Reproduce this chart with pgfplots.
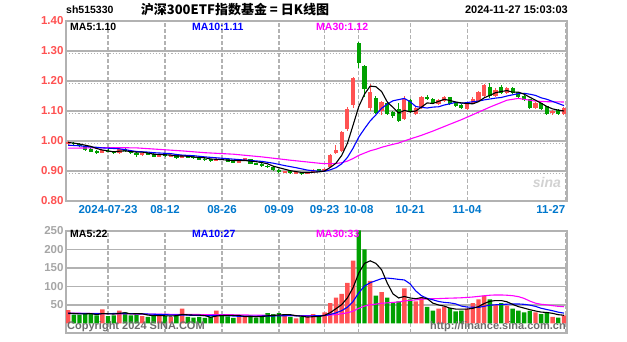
\documentclass[border=0pt]{standalone}
\usepackage{pgfplots}
\pgfplotsset{compat=1.18}
\usepackage{pgfplotstable}
\usepackage{fontspec}
\setmainfont{Liberation Sans}
\newfontfamily\cjk{Noto Sans CJK SC}
\definecolor{kred}{RGB}{255,82,82}
\definecolor{kgreen}{RGB}{0,160,0}
\definecolor{kblue}{RGB}{0,0,255}
\definecolor{kmag}{RGB}{255,0,255}
\definecolor{dateblue}{RGB}{0,120,205}
\definecolor{gridgray}{RGB}{178,178,178}
\definecolor{txtgray}{RGB}{110,110,110}

\pgfplotstableread{
i o h l c v u
0 0.990 1.000 0.987 0.995 36 1
1 0.993 0.998 0.986 0.991 24 0
2 0.990 0.993 0.980 0.984 23 0
3 0.982 0.985 0.968 0.972 25 0
4 0.972 0.975 0.962 0.966 26 0
5 0.966 0.970 0.958 0.962 22 0
6 0.961 0.971 0.959 0.968 38 1
7 0.967 0.972 0.962 0.966 20 0
8 0.966 0.968 0.956 0.960 22 0
9 0.960 0.975 0.958 0.972 35 1
10 0.972 0.976 0.964 0.968 30 0
11 0.966 0.969 0.958 0.961 22 0
12 0.958 0.962 0.948 0.955 24 0
13 0.955 0.961 0.951 0.958 20 1
14 0.959 0.962 0.953 0.957 18 0
15 0.957 0.959 0.946 0.949 22 0
16 0.949 0.957 0.947 0.955 24 1
17 0.955 0.958 0.948 0.951 20 0
18 0.948 0.955 0.946 0.951 17 1
19 0.951 0.953 0.941 0.944 22 0
20 0.944 0.954 0.942 0.951 40 1
21 0.951 0.953 0.943 0.946 18 0
22 0.946 0.949 0.940 0.944 16 0
23 0.944 0.946 0.936 0.939 17 0
24 0.940 0.942 0.934 0.938 15 0
25 0.938 0.940 0.930 0.934 18 0
26 0.934 0.942 0.932 0.940 35 1
27 0.940 0.943 0.935 0.938 22 0
28 0.938 0.940 0.929 0.932 19 0
29 0.933 0.935 0.927 0.930 15 0
30 0.929 0.938 0.927 0.936 18 1
31 0.936 0.944 0.934 0.941 20 1
32 0.938 0.940 0.922 0.925 22 0
33 0.926 0.928 0.920 0.923 16 0
34 0.923 0.925 0.914 0.917 18 0
35 0.917 0.920 0.910 0.913 28 0
36 0.913 0.915 0.900 0.903 25 0
37 0.902 0.905 0.893 0.897 28 0
38 0.895 0.901 0.893 0.898 20 1
39 0.898 0.900 0.890 0.894 18 0
40 0.892 0.899 0.891 0.896 14 1
41 0.896 0.898 0.888 0.892 18 0
42 0.891 0.898 0.889 0.895 17 1
43 0.895 0.906 0.893 0.903 25 1
44 0.905 0.907 0.898 0.901 20 0
45 0.900 0.910 0.897 0.907 30 1
46 0.915 0.955 0.912 0.952 55 1
47 0.960 0.985 0.955 0.968 70 1
48 0.968 1.035 0.962 1.030 80 1
49 1.040 1.112 1.035 1.105 110 1
50 1.120 1.215 1.110 1.210 170 1
51 1.325 1.330 1.245 1.262 252 0
52 1.250 1.255 1.148 1.175 200 0
53 1.112 1.190 1.100 1.163 115 1
54 1.143 1.150 1.090 1.095 75 0
55 1.100 1.132 1.088 1.128 85 1
56 1.125 1.130 1.085 1.090 70 0
57 1.095 1.100 1.078 1.085 55 0
58 1.105 1.127 1.062 1.068 60 0
59 1.075 1.150 1.070 1.140 95 1
60 1.135 1.140 1.093 1.100 65 0
61 1.092 1.112 1.088 1.108 60 1
62 1.112 1.150 1.108 1.147 70 1
63 1.145 1.152 1.135 1.140 45 0
64 1.140 1.143 1.122 1.128 35 0
65 1.125 1.140 1.120 1.135 40 1
66 1.133 1.150 1.130 1.145 45 1
67 1.145 1.148 1.120 1.125 42 0
68 1.124 1.128 1.112 1.118 33 0
69 1.118 1.122 1.105 1.110 35 0
70 1.108 1.128 1.104 1.125 40 1
71 1.125 1.145 1.122 1.140 55 1
72 1.135 1.168 1.132 1.162 65 1
73 1.150 1.190 1.148 1.185 75 1
74 1.180 1.192 1.145 1.150 65 0
75 1.152 1.175 1.148 1.170 50 1
76 1.178 1.188 1.155 1.160 55 0
77 1.160 1.180 1.156 1.175 48 1
78 1.175 1.180 1.155 1.160 40 0
79 1.162 1.165 1.142 1.148 35 0
80 1.150 1.155 1.132 1.138 30 0
81 1.138 1.140 1.105 1.110 34 0
82 1.112 1.130 1.108 1.125 30 1
83 1.125 1.128 1.103 1.108 25 0
84 1.115 1.118 1.088 1.092 30 0
85 1.093 1.104 1.088 1.100 18 1
86 1.102 1.106 1.086 1.090 16 0
87 1.090 1.112 1.087 1.108 22 1
}\kdata

\pgfplotsset{
  sina/.style={
    scale only axis, width=501pt,
    xmin=-0.37, xmax=87.53,
    axis line style={gridgray, line width=1.6pt},
    major tick length=0pt,
    xtick={7,17,27,37,45,51,60,70},
    grid=major,
    major grid style={gridgray, line width=1.1pt},
    x grid style={dash pattern=on 4pt off 2pt},
    extra x ticks={87.3},
    /pgf/number format/assume math mode=true,
    ticklabel style={font=\fontsize{11.5}{13}\selectfont\bfseries},
  },
  ma/.style={line width=1.1pt, mark=none, sharp plot},
}

\begin{document}
\begin{tikzpicture}[x=1pt,y=1pt]
\fill[white] (0pt,0pt) rectangle (627pt,342pt);

% ---------------- price panel ----------------
\begin{axis}[sina, at={(66pt,141pt)}, anchor=south west, height=180pt,
  ymin=0.8, ymax=1.4,
  ytick={0.8,0.9,1.0,1.1,1.2,1.3,1.4},
  yticklabel style={text=kred, xshift=1pt, /pgf/number format/.cd, fixed, fixed zerofill, precision=2},
  xticklabels={2024-07-23,08-12,08-26,09-09,09-23,10-08,10-21,11-04},
  xticklabel style={text=dateblue, yshift=-1pt},
  extra x tick labels={11-27},
  extra x tick style={grid=major, xticklabel style={anchor=north east, xshift=3pt}},
  extra y ticks={0.891,0.991,1.091,1.191,1.291},
  extra y tick labels={},
  extra y tick style={grid=major, major grid style={gridgray, dotted, line width=0.8pt}},
]
% wicks
\addplot[draw=none, mark=none, restrict expr to domain={\thisrow{u}}{0.5:1.5},
  error bars/.cd, y dir=both, y explicit, error mark=none,
  error bar style={draw=kred, line width=1pt}]
  table[x=i, y expr=(\thisrow{h}+\thisrow{l})/2, y error expr=(\thisrow{h}-\thisrow{l})/2] {\kdata};
\addplot[draw=none, mark=none, restrict expr to domain={\thisrow{u}}{-0.5:0.5},
  error bars/.cd, y dir=both, y explicit, error mark=none,
  error bar style={draw=kgreen, line width=1pt}]
  table[x=i, y expr=(\thisrow{h}+\thisrow{l})/2, y error expr=(\thisrow{h}-\thisrow{l})/2] {\kdata};
% bodies
\addplot[draw=none, mark=none, restrict expr to domain={\thisrow{u}}{0.5:1.5},
  error bars/.cd, y dir=both, y explicit, error mark=none,
  error bar style={draw=kred, line width=4.2pt}]
  table[x=i, y expr=(\thisrow{o}+\thisrow{c})/2, y error expr=abs(\thisrow{c}-\thisrow{o})/2+0.0012] {\kdata};
\addplot[draw=none, mark=none, restrict expr to domain={\thisrow{u}}{-0.5:0.5},
  error bars/.cd, y dir=both, y explicit, error mark=none,
  error bar style={draw=kgreen, line width=4.2pt}]
  table[x=i, y expr=(\thisrow{o}+\thisrow{c})/2, y error expr=abs(\thisrow{c}-\thisrow{o})/2+0.0012] {\kdata};
% MA30
\addplot[ma, kmag] coordinates {(0,0.976)(4,0.977)(8,0.978)(12,0.977)(16,0.972)(20,0.967)(24,0.961)(29,0.956)(34,0.947)(39,0.936)(44,0.926)(45,0.9245)(46,0.9244)(47,0.925)(48,0.9276)(49,0.933)(50,0.9416)(51,0.9521)(52,0.9598)(53,0.9673)(54,0.9725)(55,0.979)(56,0.984)(57,0.9889)(58,0.9934)(59,1.0004)(62,1.019)(64,1.033)(67,1.056)(69,1.071)(72,1.096)(74,1.113)(77,1.136)(79,1.142)(82,1.133)(84,1.131)(87,1.130)};
% MA10
\addplot[ma, kblue] coordinates {(0,0.986)(1,0.985)(2,0.984)(3,0.982)(4,0.980)(5,0.979)(6,0.977)(7,0.976)(8,0.975)(9,0.974)(10,0.971)(11,0.968)(12,0.965)(13,0.964)(14,0.963)(15,0.961)(16,0.960)(17,0.959)(18,0.958)(19,0.955)(20,0.953)(22,0.951)(24,0.947)(26,0.944)(28,0.941)(30,0.938)(32,0.935)(34,0.932)(36,0.926)(38,0.918)(40,0.911)(42,0.903)(44,0.899)(45,0.899)(46,0.904)(47,0.911)(48,0.924)(49,0.945)(50,0.976)(51,1.013)(52,1.041)(53,1.067)(54,1.087)(55,1.109)(56,1.123)(57,1.134)(58,1.138)(59,1.142)(60,1.131)(61,1.115)(62,1.112)(63,1.110)(64,1.113)(65,1.114)(66,1.120)(67,1.124)(68,1.129)(69,1.126)(70,1.128)(71,1.131)(72,1.133)(73,1.137)(74,1.140)(75,1.143)(76,1.145)(77,1.150)(78,1.154)(79,1.158)(80,1.159)(81,1.156)(82,1.152)(83,1.144)(84,1.139)(85,1.132)(86,1.125)(87,1.118)};
% MA5
\addplot[ma, black] coordinates {(0,0.995)(1,0.993)(2,0.990)(3,0.986)(4,0.982)(5,0.975)(6,0.970)(7,0.967)(8,0.964)(9,0.966)(10,0.967)(11,0.965)(12,0.963)(13,0.963)(14,0.960)(15,0.956)(16,0.955)(17,0.954)(18,0.953)(19,0.950)(20,0.950)(21,0.949)(22,0.947)(23,0.945)(24,0.944)(25,0.940)(26,0.939)(27,0.938)(28,0.936)(29,0.935)(30,0.935)(31,0.935)(32,0.933)(33,0.931)(34,0.928)(35,0.924)(36,0.916)(37,0.911)(38,0.906)(39,0.901)(40,0.898)(41,0.895)(42,0.895)(43,0.896)(44,0.897)(45,0.900)(46,0.912)(47,0.926)(48,0.952)(49,0.992)(50,1.053)(51,1.115)(52,1.156)(53,1.183)(54,1.181)(55,1.165)(56,1.130)(57,1.112)(58,1.093)(59,1.102)(60,1.097)(61,1.100)(62,1.113)(63,1.127)(64,1.125)(65,1.132)(66,1.139)(67,1.135)(68,1.130)(69,1.127)(70,1.125)(71,1.124)(72,1.131)(73,1.144)(74,1.152)(75,1.161)(76,1.165)(77,1.168)(78,1.163)(79,1.163)(80,1.156)(81,1.146)(82,1.136)(83,1.126)(84,1.115)(85,1.107)(86,1.103)(87,1.100)};
\node[anchor=center, inner sep=0pt, text=gray!35, font=\fontsize{14}{14}\selectfont\bfseries\itshape] at (axis cs:84,0.86) {sina};
\end{axis}

% ---------------- volume panel ----------------
\begin{axis}[sina, at={(66pt,9pt)}, anchor=south west, height=102pt,
  ymin=-25.7, ymax=250,
  ytick={50,100,150,200,250},
  yticklabel style={text=gray!70, xshift=1pt},
  xticklabels={}, extra x tick labels={},
  extra x tick style={grid=major},
]
\addplot[ybar, bar width=4.4pt, bar shift=0pt, fill=kred, draw=none,
  restrict expr to domain={\thisrow{u}}{0.5:1.5}] table[x=i, y=v] {\kdata};
\addplot[ybar, bar width=4.4pt, bar shift=0pt, fill=kgreen, draw=none,
  restrict expr to domain={\thisrow{u}}{-0.5:0.5}] table[x=i, y=v] {\kdata};
% MA30
\addplot[ma, kmag] coordinates {(0,28)(10,26)(20,24.5)(29,23.5)(34,22.2)(39,21.6)(44,20.9)(47,23.9)(49,28.9)(50,33.2)(51,41)(52,47.1)(53,50.4)(54,52.4)(55,54.6)(56,55.8)(57,56.9)(58,58.3)(59,60.9)(60,62.5)(61,63.8)(62,65.4)(63,66.4)(64,66.9)(65,67.3)(66,68)(67,68.5)(68,68.9)(69,69.5)(70,70.4)(71,71.6)(72,73.2)(73,74.9)(74,76.4)(75,77.1)(76,77.1)(77,76.4)(78,75.1)(79,72.6)(80,67.9)(81,60.6)(82,54.9)(83,51.9)(84,50.4)(85,48.2)(86,46.4)(87,45.3)};
% MA10
\addplot[ma, kblue] coordinates {(0,27)(3,27)(6,26.5)(9,27.1)(12,26.4)(15,25.1)(18,23.2)(21,22.5)(24,21.1)(27,22)(30,19.3)(33,20)(36,20.3)(39,21.3)(42,20.2)(44,21.3)(45,21.5)(46,24.5)(47,28.7)(48,34.7)(49,43.9)(50,59.5)(51,82.9)(52,101.2)(53,110.2)(54,115.7)(55,121.2)(56,122.7)(57,121.2)(58,119.2)(59,117.7)(60,107.2)(61,88)(62,75)(63,68)(64,64)(65,59.5)(66,57)(67,55.7)(68,53)(69,47)(70,44.5)(71,44)(72,43.5)(73,46.5)(74,49.5)(75,50.5)(76,51.5)(77,52.1)(78,52.8)(79,52.8)(80,51.8)(81,49.7)(82,46.2)(83,41.2)(84,37.7)(85,34.5)(86,30.6)(87,28)};
% MA5
\addplot[ma, black] coordinates {(0,28)(1,27)(2,26)(3,26)(4,26.8)(5,24)(6,26.8)(7,26.2)(8,25.6)(9,27.4)(10,29)(11,25.8)(12,26.6)(13,26.2)(14,22.8)(15,21.2)(16,21.6)(17,20.8)(18,20.2)(19,21)(20,24.6)(21,23.4)(22,22.6)(23,22.6)(24,21.2)(25,16.8)(26,20.2)(27,21.4)(28,21.8)(29,21.8)(30,21.8)(31,18.8)(32,18.8)(33,18.2)(34,18.8)(35,20.8)(36,21.8)(37,23)(38,23.8)(39,23.8)(40,21)(41,19.6)(42,17.4)(43,18.4)(44,18.8)(45,22)(46,29.4)(47,40)(48,51)(49,69)(50,97)(51,136.4)(52,162.4)(53,169.4)(54,162.4)(55,145.4)(56,109)(57,80)(58,69)(59,73)(60,69)(61,67)(62,70)(63,67)(64,55)(65,50)(66,47)(67,41.4)(68,39)(69,39)(70,39)(71,41)(72,45.6)(73,54)(74,60)(75,62)(76,62)(77,58.6)(78,51.6)(79,45.6)(80,41.6)(81,37.4)(82,33.8)(83,30.8)(84,29.8)(85,27.4)(86,23.8)(87,22.2)};
\node[anchor=south west, inner sep=1pt, text=txtgray, font=\fontsize{11}{12}\selectfont\bfseries] at (rel axis cs:0,0) {Copyright 2024 SINA.COM};
\node[anchor=south east, inner sep=1pt, text=txtgray, font=\fontsize{11}{12}\selectfont\bfseries] at (rel axis cs:1,0) {http://finance.sina.com.cn};
\end{axis}

% ---------------- texts ----------------
\node[anchor=west, inner sep=0pt, font=\fontsize{10.5}{12}\selectfont\bfseries] at (66pt,332pt) {sh515330};
\node[anchor=center, inner sep=0pt, font=\cjk\fontsize{13}{14}\selectfont\bfseries] at (235pt,332pt) {沪深300ETF指数基金 = 日K线图};
\node[anchor=east, inner sep=0pt, font=\fontsize{11}{12}\selectfont\bfseries] at (568pt,332pt) {2024-11-27 15:03:03};

\node[anchor=west, inner sep=0pt, font=\fontsize{10.5}{12}\selectfont\bfseries] at (70pt,315pt) {MA5:1.10};
\node[anchor=west, inner sep=0pt, text=kblue, font=\fontsize{10.5}{12}\selectfont\bfseries] at (192pt,315pt) {MA10:1.11};
\node[anchor=west, inner sep=0pt, text=kmag, font=\fontsize{10.5}{12}\selectfont\bfseries] at (316pt,315pt) {MA30:1.12};

\node[anchor=west, inner sep=0pt, font=\fontsize{10.5}{12}\selectfont\bfseries] at (70pt,108pt) {MA5:22};
\node[anchor=west, inner sep=0pt, text=kblue, font=\fontsize{10.5}{12}\selectfont\bfseries] at (192pt,108pt) {MA10:27};
\node[anchor=west, inner sep=0pt, text=kmag, font=\fontsize{10.5}{12}\selectfont\bfseries] at (316pt,108pt) {MA30:33};

\path[use as bounding box] (0pt,0pt) rectangle (627pt,342pt);
\end{tikzpicture}
\end{document}
